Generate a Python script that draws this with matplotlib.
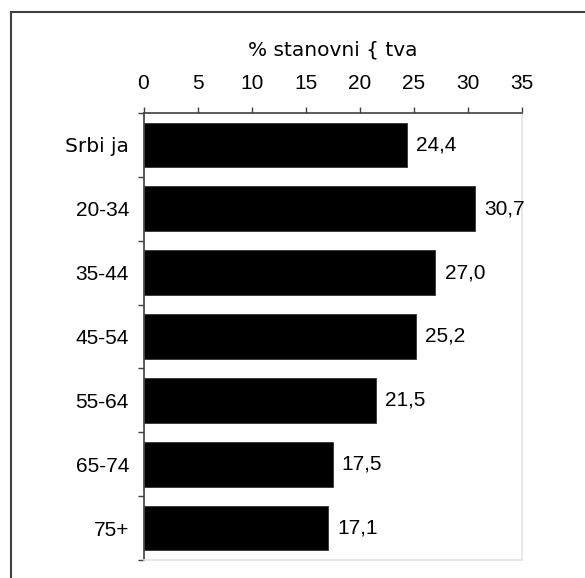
import matplotlib
matplotlib.use("Agg")
import matplotlib.pyplot as plt
from matplotlib.lines import Line2D
import numpy as np

plt.rcParams['font.family'] = ['Liberation Sans', 'DejaVu Sans']

categories = ["Srbi ja", "20-34", "35-44", "45-54", "55-64", "65-74", "75+"]
values = [24.4, 30.7, 27.0, 25.2, 21.5, 17.5, 17.1]
value_labels = ["24,4", "30,7", "27,0", "25,2", "21,5", "17,5", "17,1"]
x_ticks = [0, 5, 10, 15, 20, 25, 30, 35]
title = "% stanovni { tva"

W, H = 585, 578
fig = plt.figure(figsize=(W / 100, H / 100), dpi=100)
fig.patch.set_facecolor("white")

# outer frame (top and left edges)
fig.add_artist(Line2D([11 / W, 11 / W], [0, 1 - 11.5 / H], transform=fig.transFigure,
                      color="#404040", lw=1.5))
fig.add_artist(Line2D([11 / W, 1], [1 - 11.5 / H, 1 - 11.5 / H], transform=fig.transFigure,
                      color="#404040", lw=1.5))

left, right, top, bottom = 143.5, 522, 113, 560
ax = fig.add_axes([left / W, 1 - bottom / H, (right - left) / W, (bottom - top) / H])

y = np.arange(len(categories))
ax.barh(y, values, height=0.7, color="black", edgecolor="#333333", linewidth=0.6)
ax.set_xlim(0, 35)
ax.set_ylim(len(categories) - 0.5, -0.5)

for yi, v, lab in zip(y, values, value_labels):
    ax.annotate(lab, (v, yi), xytext=(6.5, 0), textcoords="offset points",
                va="center", ha="left", fontsize=15, color="black")

ax.xaxis.tick_top()
ax.set_xticks(x_ticks)
ax.set_xticklabels([str(t) for t in x_ticks], fontsize=15)
ax.tick_params(axis="x", direction="out", length=4.5, width=1, color="#404040", pad=10)

ax.set_yticks(y)
ax.set_yticklabels(categories, fontsize=15)
ax.tick_params(axis="y", which="major", length=0, pad=10.5)
ax.set_yticks(np.arange(-0.5, len(categories)), minor=True)
ax.tick_params(axis="y", which="minor", direction="out", length=4.5, width=1, color="#404040")
# wider face for the word label
for lbl in ax.get_yticklabels():
    if not lbl.get_text()[0].isdigit():
        lbl.set_family("DejaVu Sans")
        lbl.set_fontsize(14.5)

for side in ("top", "left"):
    ax.spines[side].set_color("#404040")
    ax.spines[side].set_linewidth(1.2)
for side in ("right", "bottom"):
    ax.spines[side].set_color("#e4e4e4")
    ax.spines[side].set_linewidth(1.2)

fig.text((left + right) / 2 / W, 1 - 50 / H, title, ha="center", va="center",
         fontsize=14.5, family="DejaVu Sans")

fig.savefig("out.png", dpi=100, facecolor="white")
